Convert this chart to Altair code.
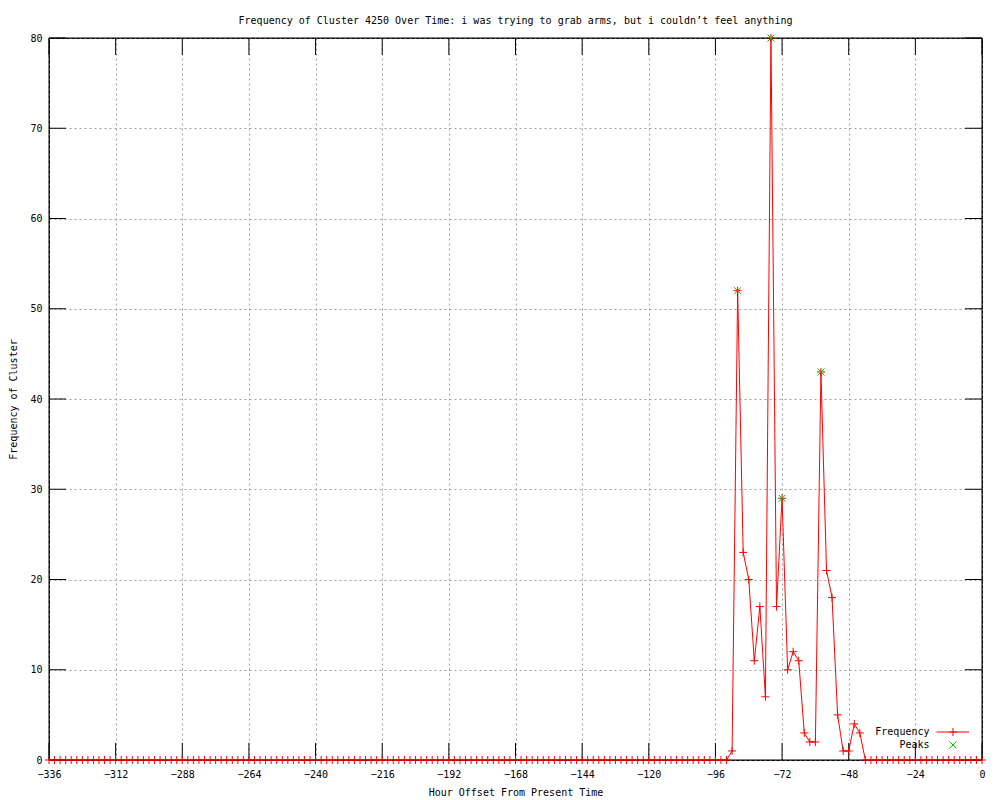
import altair as alt
import pandas as pd

# ---------------- data ----------------
hours = [
    -336, -334, -332, -330, -328, -326, -324, -322, -320, -318, -316, -314,
    -312, -310, -308, -306, -304, -302, -300, -298, -296, -294, -292, -290,
    -288, -286, -284, -282, -280, -278, -276, -274, -272, -270, -268, -266,
    -264, -262, -260, -258, -256, -254, -252, -250, -248, -246, -244, -242,
    -240, -238, -236, -234, -232, -230, -228, -226, -224, -222, -220, -218,
    -216, -214, -212, -210, -208, -206, -204, -202, -200, -198, -196, -194,
    -192, -190, -188, -186, -184, -182, -180, -178, -176, -174, -172, -170,
    -168, -166, -164, -162, -160, -158, -156, -154, -152, -150, -148, -146,
    -144, -142, -140, -138, -136, -134, -132, -130, -128, -126, -124, -122,
    -120, -118, -116, -114, -112, -110, -108, -106, -104, -102, -100, -98,
    -96, -94, -92, -90, -88, -86, -84, -82, -80, -78, -76, -74,
    -72, -70, -68, -66, -64, -62, -60, -58, -56, -54, -52, -50,
    -48, -46, -44, -42, -40, -38, -36, -34, -32, -30, -28, -26,
    -24, -22, -20, -18, -16, -14, -12, -10, -8, -6, -4, -2, 0,
]
freq = [
    0, 0, 0, 0, 0, 0, 0, 0, 0, 0, 0, 0,
    0, 0, 0, 0, 0, 0, 0, 0, 0, 0, 0, 0,
    0, 0, 0, 0, 0, 0, 0, 0, 0, 0, 0, 0,
    0, 0, 0, 0, 0, 0, 0, 0, 0, 0, 0, 0,
    0, 0, 0, 0, 0, 0, 0, 0, 0, 0, 0, 0,
    0, 0, 0, 0, 0, 0, 0, 0, 0, 0, 0, 0,
    0, 0, 0, 0, 0, 0, 0, 0, 0, 0, 0, 0,
    0, 0, 0, 0, 0, 0, 0, 0, 0, 0, 0, 0,
    0, 0, 0, 0, 0, 0, 0, 0, 0, 0, 0, 0,
    0, 0, 0, 0, 0, 0, 0, 0, 0, 0, 0, 0,
    0, 0, 0, 1, 52, 23, 20, 11, 17, 7, 80, 17,
    29, 10, 12, 11, 3, 2, 2, 43, 21, 18, 5, 1,
    1, 4, 3, 0, 0, 0, 0, 0, 0, 0, 0, 0,
    0, 0, 0, 0, 0, 0, 0, 0, 0, 0, 0, 0, 0,
]
peak_hours = [-88, -76, -72, -58]
peak_values = [52, 80, 29, 43]
x_ticks = [-336, -312, -288, -264, -240, -216, -192, -168, -144, -120, -96, -72, -48, -24, 0]
y_ticks = [0, 10, 20, 30, 40, 50, 60, 70, 80]

title_text = "Frequency of Cluster 4250 Over Time: i was trying to grab arms, but i couldn\u2019t feel anything"
legend_labels = ["Frequency", "Peaks"]

# ---------------- layout / style ----------------
W, H = 933, 722
FONT = "DejaVu Sans Mono"
FS = 10
RED = "#ff0000"
GREEN = "#00c000"
TICK = 17
PLUS = "M-1,0L1,0M0,-1L0,1"
XSHAPE = "M-1,-1L1,1M-1,1L1,-1"

df = pd.DataFrame({"hour": hours, "freq": freq})
pk = pd.DataFrame({"hour": peak_hours, "freq": peak_values})
xt = pd.DataFrame({"hour": x_ticks})
yt = pd.DataFrame({"freq": y_ticks})
one = pd.DataFrame({"a": [0]})

xscale = alt.Scale(domain=[-336, 0], nice=False, zero=False)
yscale = alt.Scale(domain=[0, 80], nice=False, zero=True)

common = dict(
    grid=True, gridDash=[2, 3], gridColor="#a0a0a0", gridWidth=1,
    domain=False, ticks=False, labelFlush=False, labelOverlap=False,
    labelFont=FONT, labelFontSize=FS, labelColor="black",
    titleFont=FONT, titleFontSize=FS, titleColor="black", titleFontWeight="normal",
)
xaxis = alt.Axis(
    values=x_ticks, title="Hour Offset From Present Time",
    labelPadding=9, titleY=35, titleX=W / 2, titleBaseline="alphabetic", **common,
)
yaxis = alt.Axis(
    values=y_ticks, title="Frequency of Cluster",
    labelPadding=7, titleX=-33, titleY=H / 2, titleAngle=-90,
    titleBaseline="alphabetic", titleAlign="center", **common,
)
X = alt.X("hour:Q", scale=xscale, axis=xaxis)
Y = alt.Y("freq:Q", scale=yscale, axis=yaxis)

line = alt.Chart(df).mark_line(color=RED, strokeWidth=1).encode(x=X, y=Y)
pts = alt.Chart(df).mark_point(
    shape=PLUS, size=64, filled=False, color=RED, strokeWidth=1, opacity=1
).encode(x=X, y=Y)
peaks = alt.Chart(pk).mark_point(
    shape=XSHAPE, size=49, filled=False, color=GREEN, strokeWidth=1, opacity=1
).encode(x=X, y=Y)

# solid frame drawn over the dashed grid
frame = alt.Chart(one).mark_rect(filled=False, stroke="black", strokeWidth=1).encode(
    x=alt.value(0), x2=alt.value(W), y=alt.value(0), y2=alt.value(H))

# inward major ticks on all four sides
tb = alt.Chart(xt).mark_rule(color="black", strokeWidth=1).encode(
    x=X, y=alt.value(H), y2=alt.value(H - TICK))
tt = alt.Chart(xt).mark_rule(color="black", strokeWidth=1).encode(
    x=X, y=alt.value(0), y2=alt.value(TICK))
tl = alt.Chart(yt).mark_rule(color="black", strokeWidth=1).encode(
    y=Y, x=alt.value(0), x2=alt.value(TICK))
tr = alt.Chart(yt).mark_rule(color="black", strokeWidth=1).encode(
    y=Y, x=alt.value(W), x2=alt.value(W - TICK))

title = alt.Chart(pd.DataFrame({"s": [title_text]})).mark_text(
    font=FONT, fontSize=FS, color="black", align="center", baseline="alphabetic"
).encode(text="s:N", x=alt.value(W / 2), y=alt.value(-14))

# manual key (bottom right, inside plot)
lx = 880.5
leg1 = alt.Chart(pd.DataFrame({"s": [legend_labels[0]]})).mark_text(
    font=FONT, fontSize=FS, color="black", align="right", baseline="middle"
).encode(text="s:N", x=alt.value(lx), y=alt.value(694))
leg2 = alt.Chart(pd.DataFrame({"s": [legend_labels[1]]})).mark_text(
    font=FONT, fontSize=FS, color="black", align="right", baseline="middle"
).encode(text="s:N", x=alt.value(lx), y=alt.value(707))
leg_line = alt.Chart(one).mark_rule(color=RED, strokeWidth=1).encode(
    x=alt.value(887.5), x2=alt.value(920), y=alt.value(694))
leg_plus = alt.Chart(one).mark_point(
    shape=PLUS, size=64, filled=False, color=RED, strokeWidth=1, opacity=1
).encode(x=alt.value(904), y=alt.value(694))
leg_x = alt.Chart(one).mark_point(
    shape=XSHAPE, size=49, filled=False, color=GREEN, strokeWidth=1, opacity=1
).encode(x=alt.value(904), y=alt.value(707))

chart = alt.layer(
    line, frame, tb, tt, tl, tr, pts, peaks, title, leg1, leg2, leg_line, leg_plus, leg_x
).properties(
    width=W, height=H,
    padding={"left": 41, "top": 30, "right": 10, "bottom": 38},
    autosize=alt.AutoSizeParams(type="none"),
    background="white",
).configure_view(
    stroke="black", strokeWidth=1
)

chart.save("out.html", embed_options={"renderer": "svg", "actions": False})
